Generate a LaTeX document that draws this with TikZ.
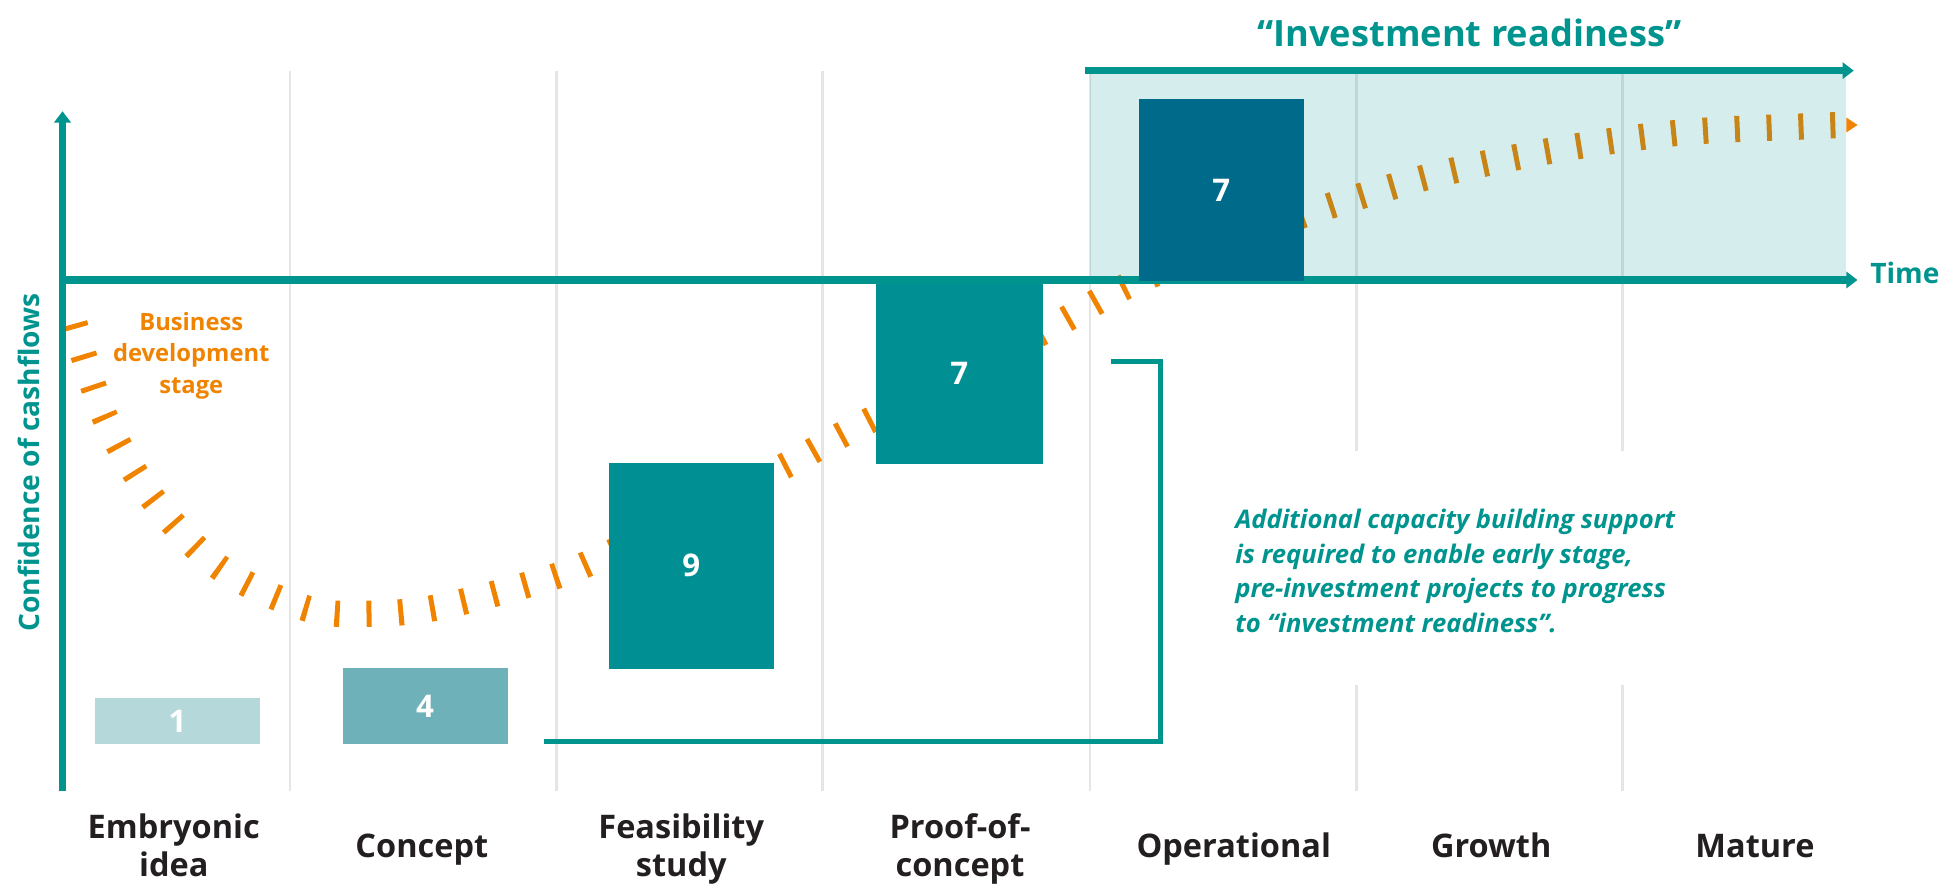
\documentclass[tikz,border=0pt]{standalone}
\usepackage{fontspec}
\setmainfont{Open Sans}
\usetikzlibrary{arrows.meta}
\definecolor{tealA}{HTML}{00948F}
\definecolor{boxT}{HTML}{009093}
\definecolor{boxD}{HTML}{006A8A}
\definecolor{boxM}{HTML}{6EB1B8}
\definecolor{boxL}{HTML}{B5D8DA}
\definecolor{orangeA}{HTML}{F08300}
\definecolor{gridG}{HTML}{E5E5E5}
\definecolor{labG}{HTML}{231F20}
\begin{document}
\begin{tikzpicture}[x=1pt,y=-1pt,
  gridline/.style={draw=gridG, line width=2pt},
  axisline/.style={draw=tealA, line width=6pt, -{Triangle[length=9pt,width=13pt]}},
  stage/.style={font=\bfseries\fontsize{26}{30}\selectfont, text=labG, align=center, inner sep=0pt, anchor=base},
  bar/.style={inner sep=0pt, text=white, font=\bfseries\fontsize{25}{30}\selectfont, minimum width=132pt},
  curve/.style={draw=orangeA, line width=21pt, dash pattern=on 4pt off 21.5pt}
]
\useasboundingbox (0,0) rectangle (1568,713);

% grid lines
\foreach \gx in {232,445,658,872} \draw[gridline] (\gx,57) -- (\gx,633);
\foreach \gx in {1085,1298} {
  \draw[gridline] (\gx,57) -- (\gx,361);
  \draw[gridline] (\gx,548) -- (\gx,633);
}

% confidence curve
\draw[curve] plot[smooth, tension=0.55] coordinates {
 (59.5,259) (84,334) (123,400) (177,455) (246,487) (297,491) (349,486)
 (421,468) (470,451) (553,410) (631,371) (675,347) (757,305) (837,264) (903,228)
 (975,199) (1045,171) (1144,141) (1244,120) (1345,106) (1447,101) (1477,100)};

% investment readiness shading
\fill[tealA, opacity=0.165] (872,59.5) rectangle (1477,224);
\fill[orangeA] (1477,94) -- (1486,100) -- (1477,106) -- cycle;

% axes
\coordinate (origin) at (50,633);
\coordinate (ytip) at (50,89);
\coordinate (tstart) at (47,224);
\coordinate (ttip) at (1486,224);
\coordinate (irstart) at (868,56.5);
\coordinate (irtip) at (1483,56.5);
\draw[axisline] (origin) -- (ytip);
\draw[axisline] (tstart) -- (ttip);
\draw[axisline] (irstart) -- (irtip);

% bars
\node[bar, fill=boxL, minimum height=37.5pt] (b1) at (142,576.75) {1};
\node[bar, fill=boxM, minimum height=61.5pt] (b4) at (340,564.75) {4};
\node[bar, fill=boxT, minimum height=165pt] (b9) at (553,452.5) {9};
\node[bar, fill=boxT, minimum height=144pt, minimum width=133pt] (b7a) at (767.5,299) {7};
\node[bar, fill=boxD, minimum height=146pt] (b7b) at (977,152) {7};

% bracket
\coordinate (brA) at (435,593);
\coordinate (brB) at (928,593);
\coordinate (brC) at (928,289);
\coordinate (brD) at (889,289);
\draw[tealA, line width=4pt] (brA) -- (brB) -- (brC) -- (brD);

% texts
\node[font=\bfseries\fontsize{29}{34}\selectfont, text=tealA, anchor=base, inner sep=0pt] (title) at (1175.5,37) {“Investment readiness”};
\node[font=\bfseries\fontsize{22.5}{27}\selectfont, text=tealA, anchor=base west, inner sep=0pt] (time) at (1496,227) {Time};
\node[font=\bfseries\fontsize{22.5}{27}\selectfont, text=tealA, anchor=base, rotate=90, inner sep=0pt] (ylab) at (31.5,370) {Confidence of cashflows};
\node[font=\bfseries\fontsize{19}{25.5}\selectfont, text=orangeA, align=center, anchor=base, inner sep=0pt] (bds) at (153,315) {Business\\development\\stage};
\node[font=\bfseries\itshape\fontsize{20.5}{27.7}\selectfont, text=tealA, align=left, anchor=base west, inner sep=0pt] (note) at (988,506)
 {Additional capacity building support\\is required to enable early stage,\\pre-investment projects to progress\\to “investment readiness”.};

\node[stage] (s1) at (139,701) {Embryonic\\idea};
\node[stage] (s2) at (337.5,686) {Concept};
\node[stage] (s3) at (545,701) {Feasibility\\study};
\node[stage] (s4) at (768,701) {Proof-of-\\concept};
\node[stage] (s5) at (987,686) {Operational};
\node[stage] (s6) at (1193,686) {Growth};
\node[stage] (s7) at (1404,686) {Mature};
\end{tikzpicture}
\end{document}
